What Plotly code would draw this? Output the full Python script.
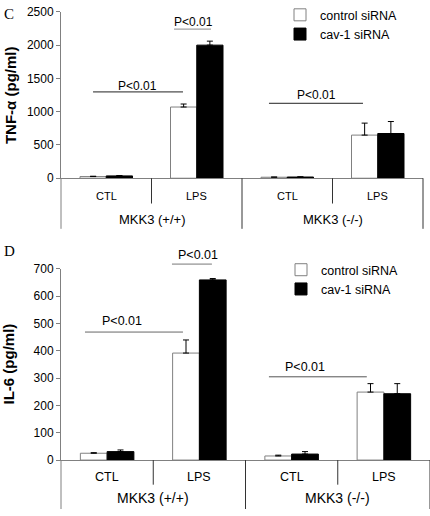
import plotly.graph_objects as go

# ---------------- data ----------------
categories = ["CTL", "LPS", "CTL", "LPS"]
group_labels = ["MKK3 (+/+)", "MKK3 (-/-)"]
series_names = ["control siRNA", "cav-1 siRNA"]
x_pos = [0, 1, 2, 3]

tnf_control = [25, 1070, 15, 648]
tnf_control_err = [5, 45, 3, 180]
tnf_cav1 = [35, 2000, 18, 672]
tnf_cav1_err = [5, 60, 3, 180]

il6_control = [25, 392, 15, 249]
il6_control_err = [2, 48, 3, 31]
il6_cav1 = [31, 660, 22, 243]
il6_cav1_err = [6, 5, 9, 37]

tnf_ticks = [0, 500, 1000, 1500, 2000, 2500]
il6_ticks = [0, 100, 200, 300, 400, 500, 600, 700]

sig_text = "P<0.01"
# significance brackets: (x_start, x_end, y_line, x_text, y_text)
tnf_sig = [(-0.146, 0.848, 1297, 0.35, 1389),
           (0.749, 1.157, 2241, 0.959, 2354),
           (1.798, 2.837, 1126, 2.318, 1257)]
il6_sig = [(-0.24, 0.822, 469, 0.161, 508),
           (0.703, 1.136, 718, 0.98, 751),
           (1.754, 2.815, 305, 2.144, 341)]

# ---------------- layout constants ----------------
W, H = 430, 516
SANS = "Liberation Sans"
SERIF = "Liberation Serif"
GRAY = "#808080"

top_xdom = [61 / W, 423 / W]
bot_xdom = [61 / W, 1.0]
top_dom = [1 - 176 / H, 1 - 5 / H]
bot_dom = [1 - 465.7 / H, 1 - 269.3 / H]
top_xr = [-0.5, 3.5]
bot_xr = [-0.5, 3.5]
top_yr = [0, 2500]
bot_yr = [0, 700]

fig = go.Figure()


def add_bars(vals, errs, name, fill, line, xa, ya, legend):
    fig.add_trace(go.Bar(
        x=x_pos, y=vals, name=name,
        marker=dict(color=fill, line=dict(color=line, width=1)),
        error_y=dict(type="data", array=errs, arrayminus=[0] * len(errs),
                     symmetric=False, color="#000000", thickness=1, width=3),
        xaxis=xa, yaxis=ya, legend=legend, showlegend=True,
    ))


add_bars(tnf_control, tnf_control_err, series_names[0], "white", GRAY, "x", "y", "legend")
add_bars(tnf_cav1, tnf_cav1_err, series_names[1], "black", "black", "x", "y", "legend")
add_bars(il6_control, il6_control_err, series_names[0], "white", GRAY, "x2", "y2", "legend2")
add_bars(il6_cav1, il6_cav1_err, series_names[1], "black", "black", "x2", "y2", "legend2")

axis_common = dict(showgrid=False, zeroline=False, showline=True, linecolor=GRAY, linewidth=1)

fig.update_layout(
    width=W, height=H,
    margin=dict(l=0, r=0, t=0, b=0),
    paper_bgcolor="white", plot_bgcolor="white",
    barmode="group", bargap=0.42, bargroupgap=0,
    font=dict(family=SANS, color="black", size=12),
    xaxis=dict(domain=top_xdom, range=top_xr, anchor="y", showticklabels=False, ticks="", **axis_common),
    yaxis=dict(domain=top_dom, range=top_yr, anchor="x", tickvals=tnf_ticks, ticks="outside",
               ticklen=4, tickcolor=GRAY, tickfont=dict(size=12), **axis_common),
    xaxis2=dict(domain=bot_xdom, range=bot_xr, anchor="y2", showticklabels=False, ticks="", **axis_common),
    yaxis2=dict(domain=bot_dom, range=bot_yr, anchor="x2", tickvals=il6_ticks, ticks="outside",
                ticklen=4, tickcolor=GRAY, tickfont=dict(size=12), **axis_common),
    legend=dict(x=280 / W, y=1 + 7 / H, xanchor="left", yanchor="top", bgcolor="rgba(0,0,0,0)",
                font=dict(size=12.5), tracegroupgap=0, itemwidth=30),
    legend2=dict(x=281 / W, y=1 - 255 / H, xanchor="left", yanchor="top", bgcolor="rgba(0,0,0,0)",
                 font=dict(size=12.5), tracegroupgap=0, itemwidth=30),
    showlegend=True,
)

shapes = []
annotations = []


def dom_x(v, xr):
    return (v - xr[0]) / (xr[1] - xr[0])


def dom_y(v, yr):
    return (v - yr[0]) / (yr[1] - yr[0])


def category_frame(xa, ya, xr, dom, px_short, px_long, px_cat, px_grp, cat_size, grp_size):
    hpx = (dom[1] - dom[0]) * H
    short = -px_short / hpx
    long_ = -px_long / hpx
    xd, yd = xa + " domain", ya + " domain"
    # y-axis line extension below zero
    shapes.append(dict(type="line", xref=xd, yref=yd, x0=0, x1=0, y0=0, y1=long_,
                       line=dict(color=GRAY, width=1)))
    for b, is_long in [(0.5, False), (1.5, True), (2.5, False)]:
        xx = dom_x(b, xr)
        shapes.append(dict(type="line", xref=xd, yref=yd, x0=xx, x1=xx, y0=0,
                           y1=long_ if is_long else short, line=dict(color="#333333", width=1)))
    shapes.append(dict(type="line", xref=xd, yref=yd, x0=1, x1=1, y0=0, y1=long_,
                       line=dict(color="#333333", width=1)))
    for xv, lab in zip(x_pos, categories):
        annotations.append(dict(x=dom_x(xv, xr), y=-px_cat / hpx, xref=xd, yref=yd, text=lab,
                                showarrow=False, font=dict(size=cat_size, family=SANS),
                                xanchor="center", yanchor="middle"))
    for gi, lab in enumerate(group_labels):
        annotations.append(dict(x=dom_x(0.5 + 2 * gi, xr), y=-px_grp / hpx, xref=xd, yref=yd, text=lab,
                                showarrow=False, font=dict(size=grp_size, family=SANS),
                                xanchor="center", yanchor="middle"))


category_frame("x", "y", top_xr, top_dom, 26, 52, 18, 42, 11, 13)
category_frame("x2", "y2", bot_xr, bot_dom, 25.3, 50.3, 17.3, 39.3, 12.5, 14)


def sig_marks(sigs, xa, ya, xr, yr, colors, size):
    xd, yd = xa + " domain", ya + " domain"
    for (x0, x1, yl, xt, yt), col in zip(sigs, colors):
        shapes.append(dict(type="line", xref=xd, yref=yd,
                           x0=dom_x(x0, xr), x1=dom_x(x1, xr), y0=dom_y(yl, yr), y1=dom_y(yl, yr),
                           line=dict(color=col, width=1)))
        annotations.append(dict(x=dom_x(xt, xr), y=dom_y(yt, yr), xref=xd, yref=yd, text=sig_text,
                                showarrow=False, font=dict(size=size, family=SANS),
                                xanchor="center", yanchor="middle"))


sig_marks(tnf_sig, "x", "y", top_xr, top_yr, ["#222222", "#888888", "#222222"], 12)
sig_marks(il6_sig, "x2", "y2", bot_xr, bot_yr, ["#666666", "#777777", "#555555"], 12.5)

# axis titles (centred on the value range)
annotations.append(dict(x=10 / W, y=(top_dom[0] + top_dom[1]) / 2, xref="paper", yref="paper",
                        text="<b>TNF-α (pg/ml)</b>", textangle=-90, showarrow=False,
                        xanchor="center", yanchor="middle", font=dict(size=15, family=SANS)))
annotations.append(dict(x=9 / W, y=(bot_dom[0] + bot_dom[1]) / 2, xref="paper", yref="paper",
                        text="<b>IL-6 (pg/ml)</b>", textangle=-90, showarrow=False,
                        xanchor="center", yanchor="middle", font=dict(size=15, family=SANS)))
# panel letters
annotations.append(dict(x=2 / W, y=1 - 7 / H, xref="paper", yref="paper", text="C", showarrow=False,
                        xanchor="left", yanchor="middle", font=dict(size=15, family=SERIF)))
annotations.append(dict(x=2 / W, y=1 - 251 / H, xref="paper", yref="paper", text="D", showarrow=False,
                        xanchor="left", yanchor="middle", font=dict(size=15, family=SERIF)))

fig.update_layout(shapes=shapes, annotations=annotations)
fig.write_html("out.html", config={"displayModeBar": False},
               post_script="document.body.style.margin='0px';")
